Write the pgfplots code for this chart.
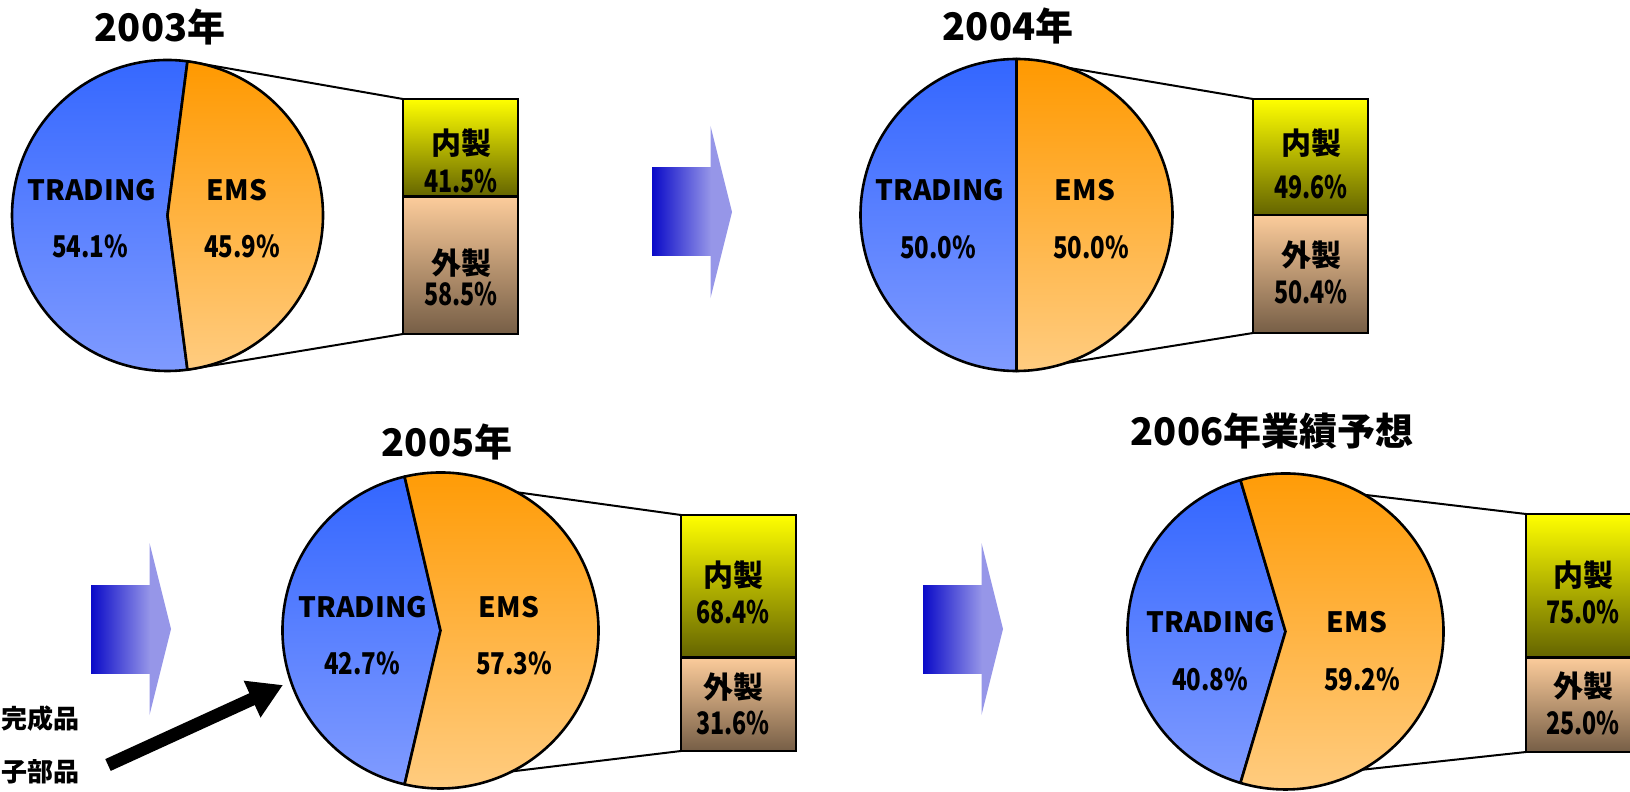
\documentclass[border=0pt]{standalone}
\usepackage{fontspec}
\setmainfont{Noto Sans CJK JP}
\usepackage{pgfplots}
\pgfplotsset{compat=1.18}
\usetikzlibrary{arrows.meta}

\definecolor{tradTop}{RGB}{51,102,255}
\definecolor{tradBot}{RGB}{128,155,255}
\definecolor{emsTop}{RGB}{255,153,0}
\definecolor{emsBot}{RGB}{255,204,128}
\definecolor{naiTop}{RGB}{255,255,0}
\definecolor{naiBot}{RGB}{100,100,0}
\definecolor{gaiTop}{RGB}{252,204,155}
\definecolor{gaiBot}{RGB}{118,94,70}
\definecolor{arrDark}{RGB}{10,10,200}
\definecolor{arrLight}{RGB}{150,150,232}

\def\pxu{0.5pt}

% ---- data: EMS share of each pie (TRADING = 100 - EMS)
\def\emsA{45.9}\def\emsB{50.0}\def\emsC{57.3}\def\emsD{59.2}

% pie: #1 cx, #2 cy, #3 r (px), #4 EMS share
\newcommand{\pie}[4]{%
  \pgfmathsetmacro\ha{#4*1.8}%
  \pgfmathsetlengthmacro\pw{2*#3*\pxu}%
  \pgfmathsetlengthmacro\pr{#3*\pxu}%
  \begin{axis}[at={({#1*\pxu},{-#2*\pxu})}, anchor=center,
    width=\pw, height=\pw, scale only axis, hide axis,
    xmin=-1, xmax=1, ymin=-1, ymax=1, clip=false]
    \path[draw=black, line width=1.3pt, line join=round, top color=tradTop, bottom color=tradBot]
      (axis cs:0,0) -- (axis cs:{cos(\ha)},{sin(\ha)}) arc[start angle=\ha, end angle={360-\ha}, radius=\pr] -- cycle;
    \path[draw=black, line width=1.3pt, line join=round, top color=emsTop, bottom color=emsBot]
      (axis cs:0,0) -- (axis cs:{cos(\ha)},{sin(\ha)}) arc[start angle=\ha, end angle={-\ha}, radius=\pr] -- cycle;
  \end{axis}}

% bar: #1 left x, #2 top y, #3 height (px), #4 naisei, #5 gaisei (bar heights)
\newcommand{\bars}[5]{%
  \pgfmathsetlengthmacro\bw{115*\pxu}%
  \pgfmathsetlengthmacro\bh{#3*\pxu}%
  \begin{axis}[at={({#1*\pxu},{-#2*\pxu})}, anchor=north west,
    width=\bw, height=\bh, scale only axis, hide axis,
    ybar stacked, bar width=\bw, xmin=-0.5, xmax=0.5, ymin=0, ymax=100, clip=false]
    \addplot[draw=black, line width=1.2pt, top color=gaiTop, bottom color=gaiBot] coordinates {(0,#5)};
    \addplot[draw=black, line width=1.2pt, top color=naiTop, bottom color=naiBot] coordinates {(0,#4)};
  \end{axis}}

% connector lines: pie cx, cy, r, ems, bar x, bar top, bar bottom
\newcommand{\conn}[7]{%
  \pgfmathsetmacro\hb{#4*1.8}%
  \draw[line width=1pt] ({#1+#3*cos(\hb)},{#2-#3*sin(\hb)}) -- (#5,#6);
  \draw[line width=1pt] ({#1+#3*cos(\hb)},{#2+#3*sin(\hb)}) -- (#5,#7);}

\newcommand{\bluearrow}[2]{% left x, rect top y
  \shade[left color=arrDark, right color=arrLight] (#1,#2) rectangle ({#1+59},{#2+88});
  \fill[arrLight] ({#1+58.5},{#2-42}) -- ({#1+80},{#2+44}) -- ({#1+58.5},{#2+130}) -- cycle;}

\begin{document}
\begin{tikzpicture}
\useasboundingbox (0,0) rectangle (815pt,-396pt);

\begin{scope}[x=\pxu, y=-\pxu]
  \conn{167.5}{215.5}{155.5}{\emsA}{403}{99}{334}
  \conn{1016.5}{215}{156}{\emsB}{1253}{99}{333}
  \conn{440.5}{630.5}{158}{\emsC}{681}{515}{751}
  \conn{1285.5}{631.5}{158}{\emsD}{1526}{514}{752}
  \bluearrow{652}{168}
  \bluearrow{91}{585}
  \bluearrow{923}{585}
\end{scope}

\pie{167.5}{215.5}{155.5}{\emsA}
\pie{1016.5}{215}{156}{\emsB}
\pie{440.5}{630.5}{158}{\emsC}
\pie{1285.5}{631.5}{158}{\emsD}

% bar segment heights as drawn in the reference
\bars{403}{99}{235}{41.5}{58.5}
\bars{1253}{99}{234}{49.6}{50.4}
\bars{681}{515}{236}{60.3}{39.7}
\bars{1526}{514}{238}{60.3}{39.7}

\begin{scope}[x=\pxu, y=-\pxu, font=\bfseries,
  ttl/.style={font=\bfseries\fontsize{19pt}{22pt}\selectfont},
  nm/.style={font=\bfseries\fontsize{14pt}{16pt}\selectfont},
  pp/.style={font=\bfseries\fontsize{15pt}{17pt}\selectfont, xscale=0.8},
  bj/.style={font=\bfseries\fontsize{15pt}{17pt}\selectfont},
  bp/.style={font=\bfseries\fontsize{15.5pt}{17pt}\selectfont, xscale=0.75}]
  % titles
  \node[ttl] at (160,27) {2003年};
  \node[ttl] at (1008,26) {2004年};
  \node[ttl] at (447,442) {2005年};
  \node[ttl] at (1272,431) {2006年業績予想};
  % pie labels
  \node[nm] at (92,190) {TRADING}; \node[pp] at (90,246) {54.1\%};
  \node[nm] at (237,190) {EMS};    \node[pp] at (242,246) {45.9\%};
  \node[nm] at (940,190) {TRADING}; \node[pp] at (938,247) {50.0\%};
  \node[nm] at (1085,190) {EMS};    \node[pp] at (1091,247) {50.0\%};
  \node[nm] at (363,607) {TRADING}; \node[pp] at (362,663) {42.7\%};
  \node[nm] at (509,607) {EMS};     \node[pp] at (514,663) {57.3\%};
  \node[nm] at (1211,622) {TRADING}; \node[pp] at (1210,679) {40.8\%};
  \node[nm] at (1357,622) {EMS};     \node[pp] at (1362,679) {59.2\%};
  % bar labels
  \node[bj] at (461,143) {内製}; \node[bp] at (461,181) {41.5\%};
  \node[bj] at (461,263) {外製}; \node[bp] at (461,294) {58.5\%};
  \node[bj] at (1311,143) {内製}; \node[bp] at (1311,187) {49.6\%};
  \node[bj] at (1311,255) {外製}; \node[bp] at (1311,292) {50.4\%};
  \node[bj] at (733,575) {内製}; \node[bp] at (733,612) {68.4\%};
  \node[bj] at (733,687) {外製}; \node[bp] at (733,723) {31.6\%};
  \node[bj] at (1583,575) {内製}; \node[bp] at (1583,612) {75.0\%};
  \node[bj] at (1583,686) {外製}; \node[bp] at (1583,723) {25.0\%};
  % left annotation
  \node[anchor=west, inner xsep=0pt, font=\bfseries\fontsize{13pt}{15pt}\selectfont] at (1,719) {完成品};
  \node[anchor=west, inner xsep=0pt, font=\bfseries\fontsize{13pt}{15pt}\selectfont] at (1,772) {子部品};
  \draw[line width=6.5pt, -{Triangle[length=17pt, width=19pt]}] (108,765) -- (283,685);
\end{scope}
\end{tikzpicture}
\end{document}
